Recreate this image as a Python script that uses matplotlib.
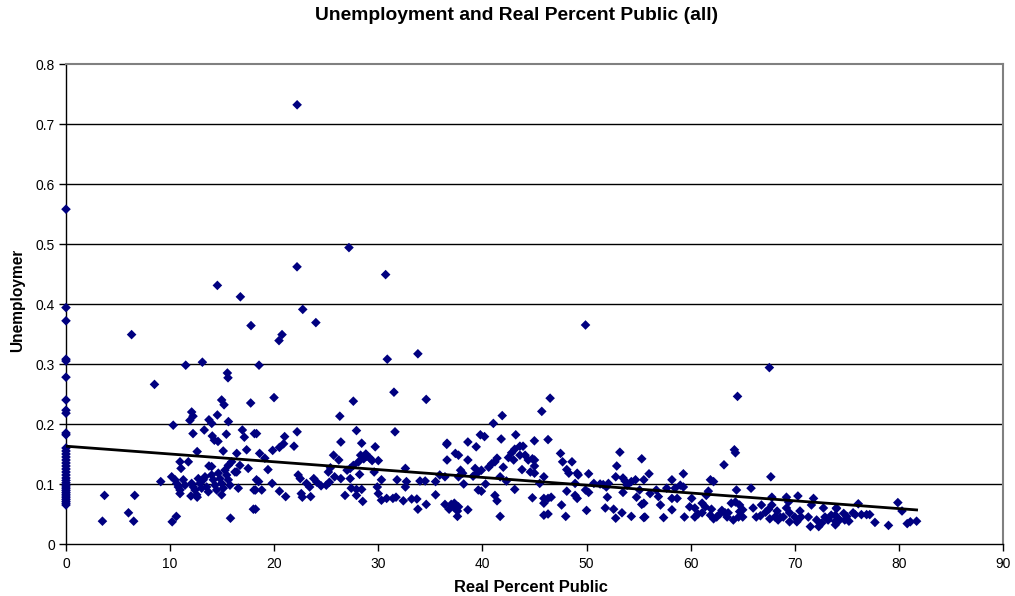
import numpy as np
import matplotlib
matplotlib.use("Agg")
import matplotlib.pyplot as plt
from matplotlib.transforms import Bbox, TransformedBbox

plt.rcParams["font.family"] = ["Liberation Sans", "DejaVu Sans"]

# Places with zero real percent public: unemployment values
zero_public_unemp = [0.558, 0.394, 0.372, 0.308, 0.305, 0.278, 0.240, 0.223, 0.218,
                     0.185, 0.182, 0.160, 0.155, 0.150, 0.145, 0.140, 0.135, 0.130,
                     0.125, 0.120, 0.115, 0.110, 0.106, 0.102, 0.098, 0.095, 0.092,
                     0.089, 0.086, 0.083, 0.080, 0.077, 0.074, 0.071, 0.068, 0.065]

# (real percent public, unemployment) pairs, grouped by percent-public range
low_public = [
    (3.5, 0.038), (3.7, 0.081), (6.0, 0.052), (6.3, 0.349), (6.5, 0.038), (6.6, 0.081),
    (8.5, 0.266), (9.1, 0.104), (10.2, 0.037), (10.3, 0.198), (10.6, 0.046),
    (10.15, 0.112), (10.47, 0.107), (10.63, 0.101), (10.79, 0.095), (10.95, 0.090),
    (11.27, 0.107), (11.43, 0.098), (10.95, 0.084), (12.07, 0.101), (12.23, 0.095),
    (12.39, 0.090), (12.55, 0.082), (12.71, 0.109), (12.87, 0.101), (13.03, 0.093),
    (13.19, 0.107), (13.35, 0.112), (13.51, 0.095), (13.67, 0.087), (13.99, 0.115),
    (14.15, 0.107), (14.31, 0.098), (14.47, 0.090), (14.63, 0.118), (14.79, 0.109),
    (14.95, 0.101), (15.11, 0.093), (14.95, 0.082), (15.27, 0.123), (15.43, 0.115),
    (15.59, 0.107), (15.75, 0.098), (15.59, 0.131), (15.91, 0.137), (16.23, 0.120),
    (16.55, 0.093), (17.5, 0.126), (18.06, 0.090), (13.99, 0.129),
    (10.95, 0.137), (11.75, 0.137), (11.05, 0.126), (11.5, 0.298), (12.07, 0.220),
    (11.9, 0.206), (12.2, 0.213), (12.2, 0.184), (12.6, 0.154), (13.1, 0.303),
    (13.28, 0.190), (13.73, 0.130), (13.73, 0.207), (14.0, 0.201), (14.54, 0.215),
    (14.54, 0.431), (14.95, 0.240), (15.18, 0.232), (14.05, 0.180), (14.25, 0.173),
    (14.6, 0.171), (15.1, 0.155), (15.4, 0.183), (15.6, 0.204), (15.5, 0.285),
    (15.56, 0.277), (16.4, 0.151), (16.7, 0.131), (16.75, 0.412), (16.94, 0.190),
    (17.13, 0.178), (17.74, 0.235), (17.35, 0.157), (17.77, 0.364), (16.4, 0.120),
    (15.8, 0.043), (12.0, 0.080), (12.6, 0.078), (18.1, 0.184), (18.0, 0.058),
    (18.54, 0.298),
]

mid_low_public = [
    (18.3, 0.184), (18.6, 0.151), (19.1, 0.143), (19.4, 0.124), (18.3, 0.107),
    (18.5, 0.104), (18.2, 0.090), (18.8, 0.090), (19.8, 0.101), (20.5, 0.088),
    (21.1, 0.079), (18.2, 0.058), (19.85, 0.156), (20.5, 0.161), (20.9, 0.167),
    (21.0, 0.179), (21.9, 0.163), (22.2, 0.187), (22.3, 0.115), (22.5, 0.109),
    (22.6, 0.084), (22.7, 0.078), (23.1, 0.101), (23.4, 0.095), (23.5, 0.079),
    (23.8, 0.109), (24.1, 0.103), (24.5, 0.097), (25.0, 0.098), (25.3, 0.103),
    (25.2, 0.120), (25.4, 0.127), (25.7, 0.148), (26.2, 0.140), (26.3, 0.213),
    (26.4, 0.170), (25.8, 0.112), (26.4, 0.109), (26.8, 0.081), (27.0, 0.123),
    (27.3, 0.109), (27.4, 0.093), (27.9, 0.091), (27.9, 0.081), (27.6, 0.238),
    (27.9, 0.189), (27.3, 0.126), (27.6, 0.131), (28.1, 0.137), (28.4, 0.168),
    (28.3, 0.148), (28.8, 0.150), (28.6, 0.142), (28.9, 0.146), (29.2, 0.143),
    (28.2, 0.116), (28.4, 0.091), (28.5, 0.071), (29.4, 0.139), (29.7, 0.162),
    (30.0, 0.139), (29.6, 0.120), (29.9, 0.095), (30.0, 0.084), (30.3, 0.107),
    (30.3, 0.073), (30.8, 0.076), (31.4, 0.076), (31.7, 0.078), (31.5, 0.253),
    (31.6, 0.187), (31.8, 0.107), (32.4, 0.072), (32.6, 0.126), (32.7, 0.104),
    (32.6, 0.095), (33.2, 0.075), (33.7, 0.075), (33.8, 0.058), (34.0, 0.105),
    (34.5, 0.105), (34.6, 0.241), (34.6, 0.066), (35.5, 0.082), (35.5, 0.104),
    (35.9, 0.115), (36.6, 0.168), (36.6, 0.140), (36.4, 0.066), (36.8, 0.058),
    (19.98, 0.244), (20.46, 0.339), (20.75, 0.349), (22.19, 0.462), (22.2, 0.732),
    (22.74, 0.391), (24.0, 0.369), (27.18, 0.494), (30.7, 0.449), (30.86, 0.308),
    (33.8, 0.317),
]

mid_high_public = [
    (36.57, 0.166), (36.4, 0.112), (37.4, 0.151), (37.7, 0.148), (37.9, 0.123),
    (38.1, 0.118), (38.2, 0.100), (37.7, 0.112), (38.6, 0.170), (38.6, 0.140),
    (39.4, 0.162), (39.3, 0.126), (39.1, 0.113), (39.5, 0.118), (39.9, 0.123),
    (39.8, 0.182), (40.2, 0.179), (39.6, 0.090), (39.9, 0.088), (40.3, 0.100),
    (40.6, 0.128), (40.9, 0.134), (41.2, 0.137), (41.4, 0.143), (41.05, 0.201),
    (41.9, 0.214), (41.8, 0.175), (42.0, 0.128), (41.7, 0.112), (42.3, 0.105),
    (41.2, 0.081), (41.4, 0.072), (41.7, 0.046), (42.5, 0.144), (42.8, 0.152),
    (43.1, 0.158), (43.0, 0.140), (43.2, 0.182), (43.1, 0.091), (43.6, 0.163),
    (43.9, 0.163), (43.6, 0.148), (44.1, 0.148), (43.8, 0.124), (44.4, 0.140),
    (44.8, 0.142), (45.0, 0.140), (45.0, 0.130), (44.99, 0.172), (44.6, 0.120),
    (45.0, 0.118), (45.7, 0.221), (46.5, 0.243), (46.3, 0.174), (45.9, 0.112),
    (45.5, 0.101), (44.8, 0.077), (45.9, 0.076), (46.3, 0.076), (45.9, 0.068),
    (46.6, 0.078), (45.9, 0.048), (46.3, 0.050), (47.5, 0.151), (47.7, 0.137),
    (48.1, 0.124), (48.3, 0.118), (48.6, 0.137), (49.1, 0.118), (49.2, 0.115),
    (48.9, 0.101), (48.1, 0.088), (47.6, 0.065), (48.0, 0.046), (48.9, 0.081),
    (49.1, 0.076), (49.9, 0.090), (50.2, 0.086), (50.0, 0.056), (50.2, 0.117),
    (50.7, 0.101), (51.3, 0.100), (51.6, 0.099), (51.9, 0.095), (52.1, 0.101),
    (52.0, 0.078), (51.8, 0.060), (52.6, 0.058), (52.8, 0.043), (52.8, 0.112),
    (52.9, 0.130), (53.2, 0.153), (53.5, 0.110), (53.7, 0.105), (53.5, 0.086),
    (53.4, 0.052), (53.9, 0.098), (54.3, 0.104), (54.7, 0.107), (54.3, 0.046),
    (54.8, 0.078), (55.3, 0.142), (55.3, 0.066), (55.5, 0.044), (55.5, 0.107),
    (37.0, 0.066), (37.3, 0.068), (37.5, 0.064), (37.7, 0.062), (37.2, 0.062),
    (37.6, 0.055), (37.6, 0.046), (38.6, 0.057), (49.9, 0.365),
]

high_public = [
    (64.5, 0.246), (64.2, 0.157), (64.3, 0.152), (63.2, 0.132), (56.0, 0.117),
    (56.1, 0.084), (56.7, 0.090), (56.9, 0.079), (57.1, 0.065), (57.7, 0.093),
    (58.2, 0.107), (58.2, 0.076), (58.5, 0.093), (58.7, 0.076), (59.0, 0.098),
    (59.3, 0.095), (59.3, 0.117), (55.5, 0.068), (55.6, 0.045), (57.4, 0.044),
    (58.2, 0.057), (59.4, 0.045), (60.4, 0.045), (60.1, 0.076), (59.9, 0.062),
    (60.4, 0.060), (61.1, 0.068), (61.4, 0.062), (61.1, 0.052), (61.9, 0.107),
    (62.2, 0.104), (61.7, 0.088), (61.5, 0.081), (61.9, 0.048), (62.2, 0.042),
    (62.5, 0.045), (62.8, 0.050), (63.0, 0.056), (63.3, 0.052), (63.6, 0.052),
    (63.9, 0.068), (64.3, 0.070), (64.4, 0.090), (64.7, 0.065), (64.7, 0.054),
    (65.0, 0.057), (64.1, 0.040), (64.6, 0.045), (65.0, 0.045), (65.8, 0.093),
    (66.3, 0.045), (66.7, 0.047), (67.2, 0.053), (67.5, 0.058), (67.7, 0.112),
    (67.8, 0.078), (67.8, 0.065), (67.6, 0.042), (68.1, 0.045), (68.4, 0.040),
    (68.6, 0.045), (69.2, 0.078), (69.4, 0.070), (69.2, 0.060), (69.5, 0.052),
    (68.9, 0.045), (69.5, 0.037), (70.0, 0.045), (70.3, 0.080), (70.2, 0.037),
    (70.6, 0.045), (71.3, 0.045), (71.5, 0.029), (71.8, 0.076), (71.6, 0.065),
    (72.1, 0.040), (72.3, 0.029), (72.75, 0.060), (72.9, 0.045), (73.2, 0.040),
    (73.5, 0.048), (73.9, 0.032), (74.0, 0.060), (74.2, 0.040), (67.56, 0.294),
    (60.7, 0.050), (62.0, 0.058), (63.5, 0.045), (66.0, 0.060), (66.8, 0.065),
    (68.3, 0.055), (70.5, 0.055), (72.6, 0.035), (55.1, 0.090),
]

top_public = [
    (74.0, 0.059), (73.9, 0.048), (74.2, 0.042), (73.9, 0.038), (74.7, 0.051),
    (74.8, 0.040), (75.2, 0.038), (75.0, 0.046), (76.1, 0.067), (75.6, 0.052),
    (75.8, 0.049), (76.4, 0.049), (76.9, 0.049), (77.2, 0.049), (77.7, 0.036),
    (79.0, 0.031), (79.9, 0.069), (80.3, 0.055), (80.8, 0.034), (81.1, 0.037),
    (81.7, 0.038), (74.3, 0.040),
]

# Linear trend line of the full data set
trend_intercept = 0.163
trend_slope = -0.0013

pairs = low_public + mid_low_public + mid_high_public + high_public + top_public
pct_public = np.concatenate([np.zeros(len(zero_public_unemp)), [p[0] for p in pairs]])
unemployment = np.concatenate([zero_public_unemp, [p[1] for p in pairs]])

x_ticks = list(range(0, 91, 10))
y_ticks = [0, 0.1, 0.2, 0.3, 0.4, 0.5, 0.6, 0.7, 0.8]
y_tick_labels = ["0", "0.1", "0.2", "0.3", "0.4", "0.5", "0.6", "0.7", "0.8"]

fig = plt.figure(figsize=(10.15, 5.96), dpi=100)
ax = fig.add_axes([66 / 1015, 52 / 596, 937 / 1015, 480 / 596])

ax.set_xlim(0, 90)
ax.set_ylim(0, 0.8)
ax.set_yticks(y_ticks)
ax.set_yticklabels(y_tick_labels)
ax.set_xticks(x_ticks)
for yv in y_ticks[1:-1]:
    ax.axhline(yv, color="black", lw=1.0, zorder=1)

ax.scatter(pct_public, unemployment, marker="D", s=24, color="#000080",
           edgecolors="none", zorder=3, clip_on=False)

xt = np.array([pct_public.min(), pct_public.max()])
ax.plot(xt, trend_intercept + trend_slope * xt, color="black", lw=2.0, zorder=4)

for side in ("left", "bottom"):
    ax.spines[side].set_color("black")
    ax.spines[side].set_linewidth(1.0)
for side in ("top", "right"):
    ax.spines[side].set_color("#808080")
    ax.spines[side].set_linewidth(1.5)

ax.tick_params(axis="both", direction="out", length=5, width=1, colors="black",
               labelsize=10)
ax.tick_params(axis="x", pad=4)
ax.tick_params(axis="y", pad=3)

fig.text(517 / 1015, 1 - 16 / 596, "Unemployment and Real Percent Public (all)",
         ha="center", va="center", fontsize=13.9, fontweight="bold")
fig.text(531 / 1015, 1 - 587 / 596, "Real Percent Public",
         ha="center", va="center", fontsize=11.9, fontweight="bold")
ylab = fig.text(18 / 1015, 1 - 352 / 596, "Unemployment", rotation=90,
                ha="center", va="bottom", fontsize=11.2, fontweight="bold")
ylab.set_clip_box(TransformedBbox(Bbox([[0, 0], [60 / 1015, 1 - 251 / 596]]),
                                  fig.transFigure))

fig.savefig("out.png", dpi=100)
